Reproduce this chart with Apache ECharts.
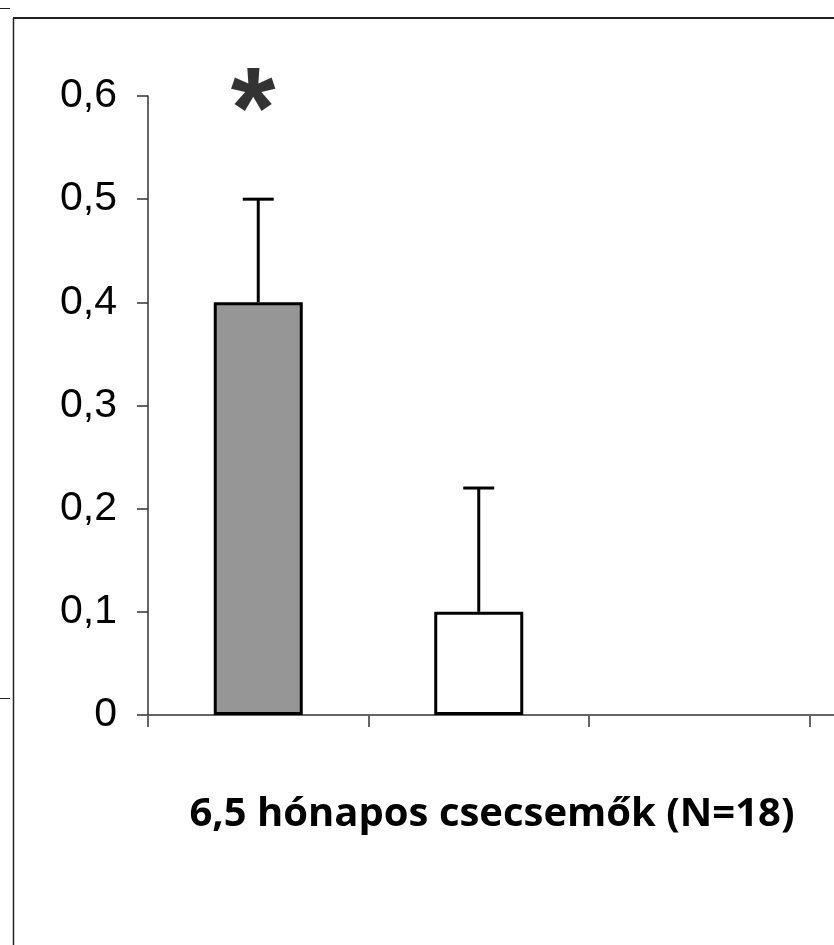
<!DOCTYPE html>
<html>
<head>
<meta charset="utf-8">
<script src="https://cdn.jsdelivr.net/npm/echarts@6/dist/echarts.min.js"></script>
<style>
  html, body { margin: 0; padding: 0; background: #fff; }
  #chart { width: 834px; height: 945px; }
</style>
</head>
<body>
<div id="chart"></div>
<script>
var categories = ['1', '2', '3', '4'];
var means = [0.4, 0.1, null, null];
var errors = [0.1, 0.12, null, null];
var barColors = ['#969696', '#ffffff'];
var starMarks = ['*', '', '', ''];
var starLevel = [0.6, null, null, null];
var yTicks = { min: 0, max: 0.6, interval: 0.1 };
var xTitle = '6,5 hónapos csecsemők (N=18)';

var myChart = echarts.init(document.getElementById('chart'));

var errData = means.map(function (v, i) {
    return v == null ? null : [i, v, v + errors[i]];
});

option = {
    animation: false,
    backgroundColor: '#fff',
    title: {
        text: xTitle,
        left: 487,
        top: 790,
        textAlign: 'center',
        textStyle: {
            fontFamily: 'Open Sans',
            fontWeight: 'bold',
            fontSize: 40,
            color: '#000'
        }
    },
    grid: {
        left: 148,
        top: 96,
        height: 619,
        width: 882,
        outerBoundsMode: 'none',
        containLabel: false
    },
    xAxis: {
        type: 'category',
        data: categories,
        axisLine: { lineStyle: { color: '#333', width: 1.5 } },
        axisTick: { show: true, length: 12, lineStyle: { color: '#666', width: 2 } },
        axisLabel: { show: false }
    },
    yAxis: {
        type: 'value',
        min: yTicks.min,
        max: yTicks.max,
        interval: yTicks.interval,
        splitLine: { show: false },
        axisLine: { show: true, lineStyle: { color: '#333', width: 1.5 } },
        axisTick: { show: true, length: 11, lineStyle: { color: '#333', width: 1.5 } },
        axisLabel: {
            margin: 31,
            fontFamily: 'Liberation Sans',
            fontSize: 41,
            color: '#000',
            formatter: function (v) {
                return v === 0 ? '0' : v.toFixed(1).replace('.', ',');
            }
        }
    },
    series: [
        {
            type: 'bar',
            barWidth: 89,
            data: means.map(function (v, i) {
                return {
                    value: v,
                    itemStyle: { color: barColors[i] || '#fff', borderColor: '#000', borderWidth: 3 }
                };
            }),
            z: 2
        },
        {
            type: 'custom',
            data: errData.filter(function (d) { return d; }),
            renderItem: function (params, api) {
                var base = api.coord([api.value(0), api.value(1)]);
                var top = api.coord([api.value(0), api.value(2)]);
                var half = 15.5;
                return {
                    type: 'group',
                    children: [
                        { type: 'line', shape: { x1: base[0], y1: base[1], x2: top[0], y2: top[1] },
                          style: { stroke: '#000', lineWidth: 3 } },
                        { type: 'line', shape: { x1: top[0] - half, y1: top[1], x2: top[0] + half, y2: top[1] },
                          style: { stroke: '#000', lineWidth: 3 } }
                    ]
                };
            },
            z: 1
        },
        {
            type: 'scatter',
            symbolSize: 0,
            data: starLevel,
            label: {
                show: true,
                position: 'inside',
                offset: [-5, 19],
                formatter: function (p) { return starMarks[p.dataIndex]; },
                fontFamily: 'Liberation Sans',
                fontWeight: 'bold',
                fontSize: 115,
                color: '#000'
            }
        }
    ],
    graphic: [
        { type: 'line', shape: { x1: 13.5, y1: 18, x2: 13.5, y2: 945 }, style: { stroke: '#222', lineWidth: 1.5 } },
        { type: 'line', shape: { x1: 13, y1: 18, x2: 834, y2: 18 }, style: { stroke: '#222', lineWidth: 2 } },
        { type: 'line', shape: { x1: 0, y1: 8.5, x2: 10, y2: 8.5 }, style: { stroke: '#222', lineWidth: 1 } },
        { type: 'line', shape: { x1: 0, y1: 698.5, x2: 10, y2: 698.5 }, style: { stroke: '#222', lineWidth: 1 } }
    ]
};
myChart.setOption(option);
</script>
</body>
</html>
